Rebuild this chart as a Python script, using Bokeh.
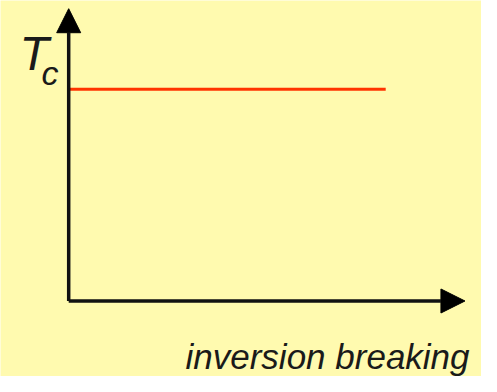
from bokeh.plotting import figure
from bokeh.models import Range1d, Arrow, NormalHead, Label, ColumnDataSource
from bokeh.embed import file_html
from bokeh.resources import INLINE

# data
breaking = [0.0, 1.0]
tc_values = [1.0, 1.0]
y_label = "T"
y_sub = "c"
x_label = "inversion breaking"

BG = "#FFFAAF"
FONT = "Liberation Sans"

p = figure(width=481, height=376, output_backend="svg", toolbar_location=None,
           x_range=Range1d(-0.2151, 1.3022), y_range=Range1d(-0.3565, 1.4188),
           min_border=0, min_border_left=0, min_border_right=0,
           min_border_top=0, min_border_bottom=0)
p.axis.visible = False
p.grid.visible = False
p.outline_line_color = None
p.background_fill_color = BG
p.border_fill_color = BG

src = ColumnDataSource(dict(x=breaking, y=tc_values))
p.line("x", "y", source=src, line_color="#FF3300", line_width=3)

# axes with arrow heads
p.add_layout(Arrow(end=NormalHead(size=24, fill_color="#000000", line_color="#000000", line_width=1),
                   x_start=0, y_start=0, x_end=0, y_end=1.38,
                   line_color="#111111", line_width=3.5))
p.add_layout(Arrow(end=NormalHead(size=24, fill_color="#000000", line_color="#000000", line_width=1),
                   x_start=0, y_start=0, x_end=1.25, y_end=0,
                   line_color="#111111", line_width=3.5))

p.add_layout(Label(x=19, y=297, x_units="screen", y_units="screen", text=y_label,
                   text_font=FONT, text_font_style="italic", text_font_size="48px",
                   text_color="#1a1a1a", text_baseline="bottom"))
p.add_layout(Label(x=41, y=285, x_units="screen", y_units="screen", text=y_sub,
                   text_font=FONT, text_font_style="italic", text_font_size="34px",
                   text_color="#1a1a1a", text_baseline="bottom"))
p.add_layout(Label(x=185, y=1, x_units="screen", y_units="screen", text=x_label,
                   text_font=FONT, text_font_style="italic", text_font_size="35px",
                   text_color="#1a1a1a", text_baseline="bottom"))

html = file_html(p, INLINE)
html = html.replace("<body>", '<body style="background:%s">' % BG, 1)
open("out.html", "w").write(html)
